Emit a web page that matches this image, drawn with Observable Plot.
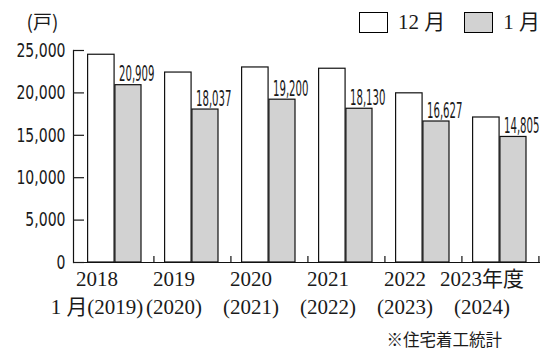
<!DOCTYPE html>
<html><head><meta charset="utf-8">
<script src="https://cdn.jsdelivr.net/npm/d3@7"></script>
<script src="https://cdn.jsdelivr.net/npm/@observablehq/plot@0.6"></script>
<style>
body{margin:0;background:#fff;}
#wrap{position:relative;width:557px;height:362px;overflow:hidden;background:#fff;color:#1a1a1a;}
#chart{position:absolute;left:0;top:0;}
#legend{position:absolute;top:12px;left:359px;display:flex;align-items:center;height:21px;font-size:21px;font-family:"Liberation Serif","Noto Sans CJK JP",serif;line-height:1;}
.sw{width:29px;height:21px;border:1px solid #000;box-sizing:border-box;}
.lt{margin-left:10px;white-space:pre;}
#caption{position:absolute;top:331px;right:55px;font-size:16.5px;font-family:"Noto Sans CJK JP",sans-serif;line-height:1;}
</style>
</head><body>
<div id="wrap">
  <div id="chart"></div>
  <div id="legend"></div>
  <div id="caption">※住宅着工統計</div>
</div>
<script>
const years = ["2018","2019","2020","2021","2022","2023"];
const yearLabels = ["2018\n1 月(2019)","2019\n(2020)","2020\n(2021)","2021\n(2022)","2022\n(2023)","2023年度\n(2024)"];
const series = ["12 月","1 月"];
const seriesColors = ["#ffffff","#d2d2d2"];
const decValues = [24500, 22400, 23000, 22850, 19950, 17100];
const janValues = [20909, 18037, 19200, 18130, 16627, 14805];
const yTicks = [0, 5000, 10000, 15000, 20000, 25000];
const yUnit = "(戸)";

const decData = years.map((y, i) => ({year: y, value: decValues[i]}));
const janData = years.map((y, i) => ({year: y, value: janValues[i]}));

const W = 557, H = 325, mL = 73, mR = 17;
const band = (W - mL - mR) / years.length;
const narrow = "'Liberation Sans Narrow','DejaVu Sans Condensed',sans-serif";
const serif = "'Liberation Serif','Noto Sans CJK JP',serif";
const fmt = d3.format(",");

const chart = Plot.plot({
  width: W, height: H,
  marginLeft: mL, marginRight: mR, marginTop: 50, marginBottom: 63,
  style: {color: "#1a1a1a", background: "#fff", overflow: "visible"},
  x: {domain: years, padding: 0, label: null},
  y: {domain: [0, 25000], label: null},
  marks: [
    Plot.barY(decData, {x: "year", y: "value", fill: seriesColors[0], stroke: "#111", strokeWidth: 1.2, insetLeft: 11.6, insetRight: band / 2}),
    Plot.barY(janData, {x: "year", y: "value", fill: seriesColors[1], stroke: "#111", strokeWidth: 1.2, insetLeft: band / 2, insetRight: 12}),
    Plot.ruleX(years, {x: d => d, y1: 0, y2: 700, dx: band / 2, stroke: "#111", strokeWidth: 1.2}),
    Plot.ruleY([0], {stroke: "#111", strokeWidth: 1.2}),
    Plot.frame({anchor: "left", stroke: "#111", strokeWidth: 1.2}),
    Plot.axisY({ticks: yTicks, tickFormat: fmt, tickSize: -11, tickPadding: 19, strokeWidth: 1.2, fontSize: 19.5, fontFamily: narrow, label: null}),
    Plot.axisX({tickSize: 0, tickPadding: 4.5, tickFormat: d => yearLabels[years.indexOf(d)], dx: -18, fontSize: 21, fontFamily: serif, lineHeight: 1.3, label: null}),
    Plot.text(janData, {x: "year", y: "value", text: d => fmt(d.value), textAnchor: "start", lineAnchor: "bottom", dx: 4, dy: -4, fontSize: 21, fontFamily: narrow}),
    Plot.text([yUnit], {frameAnchor: "top-left", textAnchor: "middle", lineAnchor: "middle", dx: -31, dy: -28, fontSize: 19, fontFamily: "'Noto Sans CJK JP',sans-serif"})
  ]
});
document.getElementById("chart").appendChild(chart);

// value labels: horizontally condensed around their anchor point to the reference width
d3.select(chart).selectAll('g[aria-label="text"] text')
  .filter(function() { return /^\d{2},\d{3}$/.test(this.textContent); })
  .each(function() {
    const sel = d3.select(this);
    const sx = 35.5 / this.getComputedTextLength();
    const x = parseFloat(sel.attr("x")) || 0, y = parseFloat(sel.attr("y")) || 0;
    const t = sel.attr("transform") || "";
    sel.attr("x", null).attr("y", null)
       .attr("transform", `${t} translate(${x},${y}) scale(${sx},1)`);
  });
// y tick labels: slightly condensed
d3.select(chart).selectAll('g[aria-label="y-axis tick label"] text')
  .each(function() {
    const w = this.getComputedTextLength();
    d3.select(this).attr("textLength", w * 0.8).attr("lengthAdjust", "spacingAndGlyphs");
  });

const legend = d3.select("#legend");
series.forEach((s, i) => {
  legend.append("div").attr("class", "sw").style("background", seriesColors[i]).style("margin-left", i ? "19px" : "0");
  legend.append("div").attr("class", "lt").text(s);
});
</script>
</body></html>
